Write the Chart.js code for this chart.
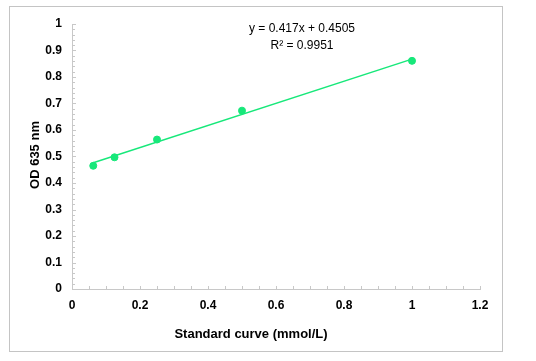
<!DOCTYPE html>
<html><head><meta charset="utf-8">
<script src="https://cdn.jsdelivr.net/npm/chart.js@4/dist/chart.umd.min.js"></script>
<style>html,body{margin:0;padding:0;background:#fff}canvas{display:block}</style>
</head><body>
<canvas id="c" width="536" height="361"></canvas>
<script>
const concX = [0.0625, 0.125, 0.25, 0.5, 1.0];
const odY = [0.465, 0.497, 0.564, 0.673, 0.861];
const trendX = [0.0625, 1.0];
const trendY = [0.4766, 0.8675];
const xTitle = 'Standard curve (mmol/L)';
const yTitle = 'OD 635 nm';
const eqText = 'y = 0.417x + 0.4505';
const r2Text = 'R² = 0.9951';
const green = '#17e87a';

const deco = {
  id: 'deco',
  beforeDraw(chart) {
    const ctx = chart.ctx;
    ctx.save();
    ctx.fillStyle = '#fff';
    ctx.fillRect(0, 0, chart.width, chart.height);
    ctx.strokeStyle = '#c4c4c4';
    ctx.lineWidth = 1;
    ctx.strokeRect(9.5, 6.5, 493, 345);
    ctx.restore();
  },
  afterDraw(chart) {
    const ctx = chart.ctx, xs = chart.scales.x, ys = chart.scales.y;
    const ca = chart.chartArea;
    ctx.save();
    ctx.strokeStyle = '#c8c8c8';
    ctx.lineWidth = 1;
    ctx.beginPath();
    for (let v = 0; v <= 1.0001; v += 0.02) {
      const p = Math.round(ys.getPixelForValue(v)) + 0.5;
      const major = Math.abs(v * 10 - Math.round(v * 10)) < 1e-6;
      ctx.moveTo(ca.left, p); ctx.lineTo(ca.left + (major ? 4 : 3), p);
    }
    for (let v = 0; v <= 1.2001; v += 0.05) {
      const p = Math.round(xs.getPixelForValue(v)) + 0.5;
      ctx.moveTo(p, ca.bottom); ctx.lineTo(p, ca.bottom - 3);
    }
    ctx.stroke();
    ctx.fillStyle = '#000';
    ctx.font = 'bold 13px "Liberation Sans", Arial, sans-serif';
    ctx.textAlign = 'center'; ctx.textBaseline = 'middle';
    ctx.fillText(xTitle, 251, 334);
    ctx.save();
    ctx.translate(35, 155); ctx.rotate(-Math.PI / 2);
    ctx.fillText(yTitle, 0, 0);
    ctx.restore();
    ctx.font = '12px "Liberation Sans", Arial, sans-serif';
    ctx.fillText(eqText, 302, 29);
    ctx.fillText(r2Text, 302, 46);
    ctx.restore();
  }
};

new Chart(document.getElementById('c'), {
  type: 'scatter',
  data: {
    datasets: [
      { label: 'OD', data: concX.map((x, i) => ({ x, y: odY[i] })),
        backgroundColor: green, borderColor: green, pointRadius: 3.5, pointHoverRadius: 3.5, showLine: false, order: 1 },
      { label: 'trend', data: trendX.map((x, i) => ({ x, y: trendY[i] })),
        borderColor: green, backgroundColor: green, borderWidth: 1.5, pointRadius: 0, showLine: true, order: 2 }
    ]
  },
  plugins: [deco],
  options: {
    responsive: false,
    animation: false,
    events: [],
    layout: { padding: { left: 0, right: 56, top: 24, bottom: 0 } },
    plugins: { legend: { display: false }, tooltip: { enabled: false } },
    scales: {
      x: {
        type: 'linear', min: 0, max: 1.2,
        afterFit(s) { s.height = 72; },
        border: { display: true, color: '#c8c8c8', width: 1 },
        grid: { display: false, drawTicks: false },
        ticks: { stepSize: 0.2, padding: 9, color: '#000',
          font: { family: '"Liberation Sans", Arial, sans-serif', size: 12, weight: 'bold' },
          callback: v => String(Math.round(v * 10) / 10) }
      },
      y: {
        type: 'linear', min: 0, max: 1,
        afterFit(s) { s.width = 72; },
        border: { display: true, color: '#c8c8c8', width: 1 },
        grid: { display: false, drawTicks: false },
        ticks: { stepSize: 0.1, padding: 10, color: '#000',
          font: { family: '"Liberation Sans", Arial, sans-serif', size: 12, weight: 'bold' },
          callback: v => String(Math.round(v * 10) / 10) }
      }
    }
  }
});
</script>
</body></html>
